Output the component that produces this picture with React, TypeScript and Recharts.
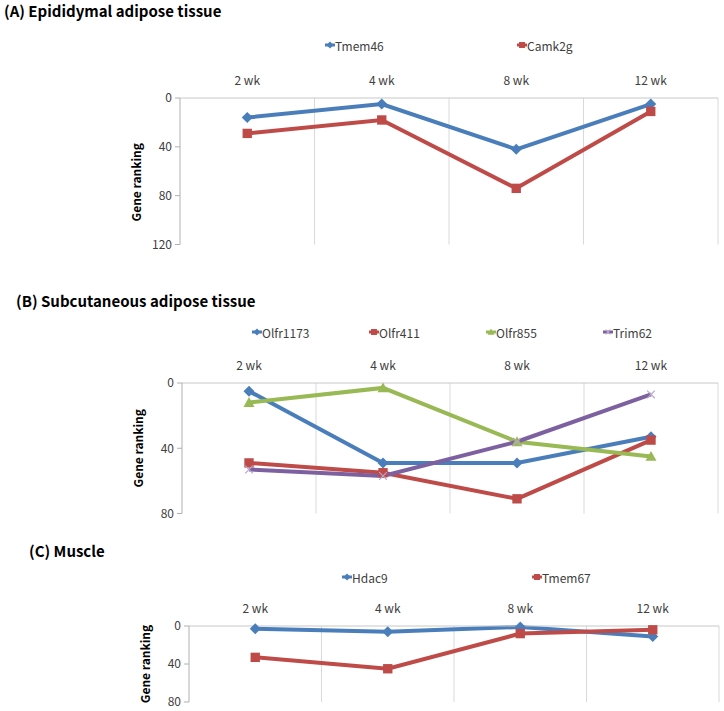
import { CartesianGrid, Label, Legend, Line, LineChart, XAxis, YAxis } from "recharts";

const weeks = ["2 wk", "4 wk", "8 wk", "12 wk"];

// (A) Epididymal adipose tissue
const tmem46 = [16, 5, 42, 5];
const camk2g = [29, 18, 74, 11];

// (B) Subcutaneous adipose tissue
const olfr1173 = [5, 49, 49, 33];
const olfr411 = [49, 55, 71, 35];
const olfr855 = [12, 3, 36, 45];
const trim62 = [53, 57, 36, 7];

// (C) Muscle
const hdac9 = [3, 6, 1, 11];
const tmem67 = [33, 45, 8, 4];

const ticksA = [0, 40, 80, 120];
const ticksBC = [0, 40, 80];

const BLUE = "#4a7ebb";
const RED = "#be4b48";
const GREEN = "#98b954";
const PURPLE = "#7d60a0";

const FONT = '"Noto Sans CJK KR", "Noto Sans", sans-serif';
const X_AXIS_H = 24;
const Y_AXIS_W = 50;

type Shape = "diamond" | "square" | "triangle" | "cross";

interface Series {
  key: string;
  name: string;
  values: number[];
  color: string;
  shape: Shape;
}

function Marker({ shape, cx, cy, color, r }: { shape: Shape; cx: number; cy: number; color: string; r: number }) {
  if (shape === "diamond") {
    return <polygon points={`${cx},${cy - r} ${cx + r},${cy} ${cx},${cy + r} ${cx - r},${cy}`} fill={color} />;
  }
  if (shape === "square") {
    const h = r * 0.85;
    return <rect x={cx - h} y={cy - h} width={h * 2} height={h * 2} fill={color} />;
  }
  if (shape === "triangle") {
    return <polygon points={`${cx},${cy - r} ${cx + r},${cy + r * 0.8} ${cx - r},${cy + r * 0.8}`} fill={color} />;
  }
  const d = r * 0.7;
  return (
    <g stroke="#b7a6cc" strokeWidth={1.2}>
      <line x1={cx - d} y1={cy - d} x2={cx + d} y2={cy + d} />
      <line x1={cx - d} y1={cy + d} x2={cx + d} y2={cy - d} />
    </g>
  );
}

function makeDot(s: Series) {
  return (props: any) => {
    const { cx, cy, index } = props;
    if (cx == null || cy == null) return <g key={`${s.key}-${index}`} />;
    return (
      <g key={`${s.key}-${index}`}>
        <Marker shape={s.shape} cx={cx} cy={cy} color={s.color} r={5.5} />
      </g>
    );
  };
}

function SeriesLegend({ series, startX, step }: { series: Series[]; startX: number; step: number }) {
  return (
    <div style={{ position: "relative", height: 16, fontFamily: FONT }}>
      {series.map((s, i) => (
        <div
          key={s.key}
          style={{
            position: "absolute",
            left: startX + i * step,
            top: 0,
            height: 16,
            display: "flex",
            alignItems: "center",
            fontSize: 12,
            color: "#404040",
            whiteSpace: "nowrap",
          }}
        >
          <svg width={10} height={10}>
            <line x1={0} y1={5} x2={10} y2={5} stroke={s.color} strokeWidth={3} />
            <Marker shape={s.shape} cx={5} cy={5} color={s.color} r={3.5} />
          </svg>
          <span>{s.name}</span>
        </div>
      ))}
    </div>
  );
}

interface PanelProps {
  title: string;
  titleLeft: number;
  titleY: number;
  titleWeight: number;
  top: number;
  height: number;
  plotTop: number;
  plotBottom: number;
  plotLeft: number;
  plotRight: number;
  yMax: number;
  yTicks: number[];
  series: Series[];
  legendY: number;
  legendX: number;
  legendStep: number;
  labelShift: number;
}

function Panel(p: PanelProps) {
  const rows = weeks.map((w, i) => {
    const row: Record<string, string | number> = { week: w };
    p.series.forEach((s) => {
      row[s.key] = s.values[i];
    });
    return row;
  });
  const plotW = p.plotRight - p.plotLeft;
  const pad = plotW / (weeks.length * 2);
  const margin = {
    top: p.plotTop - p.top - X_AXIS_H,
    bottom: p.top + p.height - p.plotBottom,
    left: p.plotLeft - Y_AXIS_W,
    right: 724 - p.plotRight,
  };

  return (
    <>
      <div
        style={{
          position: "absolute",
          left: p.titleLeft,
          top: p.titleY - 10,
          height: 20,
          lineHeight: "20px",
          fontSize: 15,
          fontWeight: p.titleWeight,
          color: "#000",
          fontFamily: FONT,
          whiteSpace: "nowrap",
          zIndex: 1,
        }}
      >
        {p.title}
      </div>
      <div style={{ position: "absolute", left: 0, top: p.top }}>
        <LineChart width={724} height={p.height} data={rows} margin={margin}>
          <CartesianGrid
            horizontal={false}
            stroke="#d9d9d9"
            verticalCoordinatesGenerator={({ offset }: any) =>
              weeks.map((_, i) => offset.left + (offset.width * (i + 1)) / weeks.length)
            }
          />
          <XAxis
            dataKey="week"
            orientation="top"
            height={X_AXIS_H}
            interval={0}
            padding={{ left: pad, right: pad }}
            axisLine={{ stroke: "#c8c8c8" }}
            tickLine={false}
            tickSize={0}
            tickMargin={13}
            tick={{ fontSize: 12, fill: "#404040", fontFamily: FONT }}
          />
          <YAxis
            reversed
            type="number"
            domain={[0, p.yMax]}
            ticks={p.yTicks}
            interval={0}
            width={Y_AXIS_W}
            axisLine={{ stroke: "#b0b0b0" }}
            tickLine={{ stroke: "#b0b0b0" }}
            tickSize={5}
            tickMargin={3}
            tick={{ fontSize: 12, fill: "#404040", fontFamily: FONT }}
          >
            <Label
              content={(lp: any) => {
                const vb = lp.viewBox || {};
                const x = vb.x + vb.width - 45;
                const y = vb.y + vb.height / 2 + p.labelShift;
                return (
                  <text
                    x={x}
                    y={y}
                    transform={`rotate(-90 ${x} ${y})`}
                    textAnchor="middle"
                    dominantBaseline="central"
                    fontSize={12}
                    fontWeight={700}
                    fontFamily={FONT}
                    fill="#000"
                  >
                    Gene ranking
                  </text>
                );
              }}
            />
          </YAxis>
          <Legend
            verticalAlign="middle"
            align="center"
            layout="horizontal"
            wrapperStyle={{ top: p.legendY - p.top - 8, left: 0, width: 724 }}
            content={() => <SeriesLegend series={p.series} startX={p.legendX} step={p.legendStep} />}
          />
          {p.series.map((s) => (
            <Line
              key={s.key}
              type="linear"
              dataKey={s.key}
              name={s.name}
              stroke={s.color}
              strokeWidth={4}
              dot={makeDot(s)}
              activeDot={false}
              isAnimationActive={false}
            />
          ))}
        </LineChart>
      </div>
    </>
  );
}

const seriesA: Series[] = [
  { key: "tmem46", name: "Tmem46", values: tmem46, color: BLUE, shape: "diamond" },
  { key: "camk2g", name: "Camk2g", values: camk2g, color: RED, shape: "square" },
];

const seriesB: Series[] = [
  { key: "olfr1173", name: "Olfr1173", values: olfr1173, color: BLUE, shape: "diamond" },
  { key: "olfr411", name: "Olfr411", values: olfr411, color: RED, shape: "square" },
  { key: "olfr855", name: "Olfr855", values: olfr855, color: GREEN, shape: "triangle" },
  { key: "trim62", name: "Trim62", values: trim62, color: PURPLE, shape: "cross" },
];

const seriesC: Series[] = [
  { key: "hdac9", name: "Hdac9", values: hdac9, color: BLUE, shape: "diamond" },
  { key: "tmem67", name: "Tmem67", values: tmem67, color: RED, shape: "square" },
];

export default function App() {
  return (
    <div
      style={{
        position: "absolute",
        left: 0,
        top: 0,
        width: 724,
        height: 711,
        background: "#fff",
        fontFamily: FONT,
        overflow: "hidden",
      }}
    >
      <Panel
        title="(A) Epididymal adipose tissue"
        titleLeft={4}
        titleY={11}
        titleWeight={700}
        top={0}
        height={270}
        plotTop={98}
        plotBottom={244.5}
        plotLeft={180}
        plotRight={718}
        yMax={120}
        yTicks={ticksA}
        series={seriesA}
        legendY={45}
        legendX={325}
        legendStep={192}
        labelShift={11}
      />
      <Panel
        title="(B) Subcutaneous adipose tissue"
        titleLeft={16}
        titleY={301}
        titleWeight={600}
        top={280}
        height={250}
        plotTop={383}
        plotBottom={513.5}
        plotLeft={182}
        plotRight={718}
        yMax={80}
        yTicks={ticksBC}
        series={seriesB}
        legendY={332}
        legendX={252}
        legendStep={117}
        labelShift={0}
      />
      <Panel
        title="(C) Muscle"
        titleLeft={29}
        titleY={551}
        titleWeight={600}
        top={535}
        height={176}
        plotTop={626}
        plotBottom={702}
        plotLeft={189}
        plotRight={719}
        yMax={80}
        yTicks={ticksBC}
        series={seriesC}
        legendY={577}
        legendX={342}
        legendStep={190}
        labelShift={0}
      />
    </div>
  );
}
